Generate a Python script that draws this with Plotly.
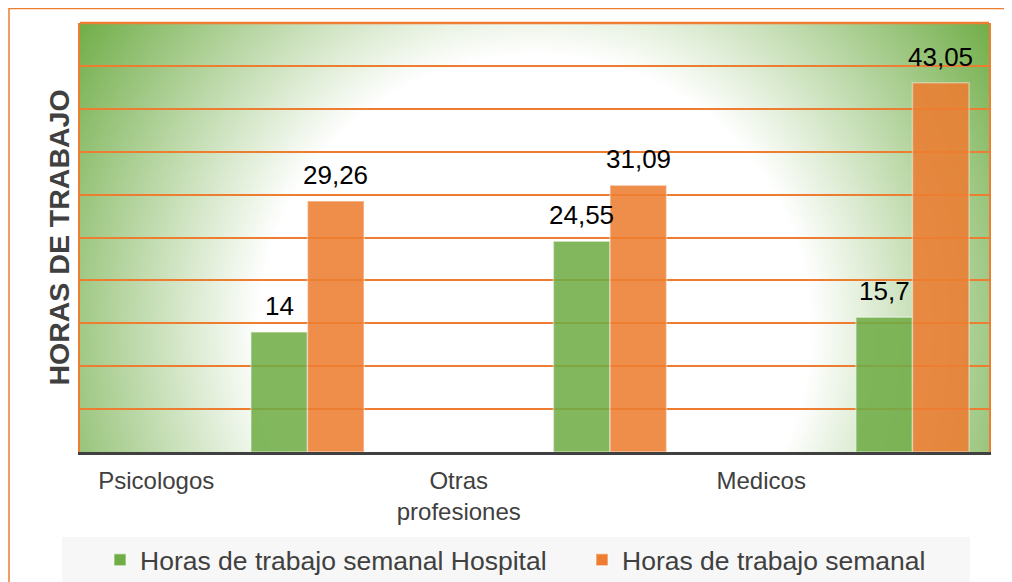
import base64
import plotly.graph_objects as go

# ---- data ----
categories = ["Psicologos", "Otras<br>profesiones", "Medicos"]
series_names = ["Horas de trabajo semanal Hospital", "Horas de trabajo semanal"]
hospital = [14, 24.55, 15.7]
semanal = [29.26, 31.09, 43.05]
y_title = "HORAS DE TRABAJO"

GREEN = "#70AD47"
ORANGE = "#ED7D31"
DARK = "#404040"
FONT = "Arial, Liberation Sans, sans-serif"

BARGAP = 0.626
group_pos = list(range(len(categories)))
label_pos = [p - 0.5 for p in group_pos]
half = (1 - BARGAP) / 4  # offset of each bar centre from group centre

# page offset (browser body margin) and plot area geometry in figure px
OFF = 8
L, T, W, H = 72, 15, 909, 429
FIG_W, FIG_H = 1004, 574


def px_x(px):
    """reference-picture x pixel -> paper coordinate"""
    return (px - OFF - L) / W


def px_y(py):
    """reference-picture y pixel -> paper coordinate"""
    return (T + H - (py - OFF)) / H


svg = (
    f'<svg xmlns="http://www.w3.org/2000/svg" width="{W}" height="{H}" '
    f'viewBox="0 0 {W} {H}" preserveAspectRatio="none"><defs>'
    f'<radialGradient id="g" gradientUnits="userSpaceOnUse" cx="455" cy="307" r="550">'
    f'<stop offset="0" stop-color="#ffffff"/>'
    f'<stop offset="0.5" stop-color="#ffffff"/>'
    f'<stop offset="1" stop-color="{GREEN}"/>'
    f'</radialGradient></defs>'
    f'<rect x="0" y="0" width="{W}" height="{H}" fill="url(#g)"/></svg>'
)
svg_uri = "data:image/svg+xml;base64," + base64.b64encode(svg.encode()).decode()

fig = go.Figure()
fig.add_trace(go.Bar(
    x=group_pos, y=hospital, name=series_names[0], legend="legend",
    marker=dict(color=GREEN, opacity=0.87, line=dict(color="rgba(255,255,255,0.45)", width=1.5)),
    hoverinfo="skip",
))
fig.add_trace(go.Bar(
    x=group_pos, y=semanal, name=series_names[1], legend="legend2",
    marker=dict(color=ORANGE, opacity=0.87, line=dict(color="rgba(255,255,255,0.45)", width=1.5)),
    hoverinfo="skip",
))

annotations = []
for vals, sign in ((hospital, -1), (semanal, 1)):
    for p, v in zip(group_pos, vals):
        annotations.append(dict(
            x=p + sign * half, y=v, xref="x", yref="y",
            text=str(v).replace(".", ","), showarrow=False,
            yanchor="bottom", yshift=9,
            font=dict(family=FONT, size=26, color="#000000"),
        ))

shapes = [
    # outer chart frame (left and top edges)
    dict(type="path", xref="paper", yref="paper",
         path=f"M {px_x(9)} {px_y(600)} L {px_x(9)} {px_y(8.6)} L {px_x(1030)} {px_y(8.6)}",
         line=dict(color=ORANGE, width=1.5), layer="above"),
    # top border of plot area
    dict(type="line", xref="paper", yref="paper", x0=0, x1=1, y0=1, y1=1,
         line=dict(color=ORANGE, width=2.5), layer="above"),
    # legend background band
    dict(type="rect", xref="paper", yref="paper",
         x0=px_x(62), x1=px_x(970), y0=px_y(537), y1=px_y(600),
         fillcolor="#F7F7F7", line=dict(width=0), layer="below"),
]

legend_common = dict(orientation="h", xanchor="left", yanchor="middle", y=px_y(560),
                     bgcolor="rgba(0,0,0,0)", font=dict(size=26.5, color=DARK))

fig.update_layout(
    width=FIG_W, height=FIG_H,
    margin=dict(l=L, r=FIG_W - L - W, t=T, b=FIG_H - T - H, autoexpand=False),
    paper_bgcolor="white", plot_bgcolor="white",
    barmode="group", bargap=BARGAP, bargroupgap=0,
    font=dict(family=FONT, color=DARK),
    showlegend=True,
    legend=dict(x=px_x(100), **legend_common),
    legend2=dict(x=px_x(582), **legend_common),
    images=[dict(source=svg_uri, xref="paper", yref="paper", x=0, y=1, sizex=1, sizey=1,
                 xanchor="left", yanchor="top", sizing="stretch", layer="below")],
    shapes=shapes,
    annotations=annotations,
)
fig.update_xaxes(
    range=[-0.752, 2.253], tickmode="array", tickvals=label_pos, ticktext=categories,
    showgrid=False, zeroline=False, showline=True, linecolor=DARK, linewidth=3,
    ticks="", ticklabelstandoff=5, tickfont=dict(size=24, color=DARK),
)
fig.update_yaxes(
    range=[0, 50], dtick=5, showticklabels=False, ticks="",
    showgrid=True, gridcolor=ORANGE, gridwidth=1.5, zeroline=False,
    showline=True, mirror=True, linecolor=ORANGE, linewidth=2,
    title=dict(text=y_title, standoff=0, font=dict(size=28.5, color=DARK, weight="bold")),
)

fig.write_html("out.html")
